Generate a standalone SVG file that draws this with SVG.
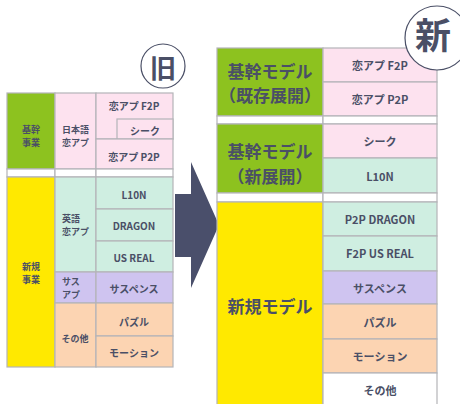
<svg xmlns="http://www.w3.org/2000/svg" width="460" height="404" viewBox="0 0 460 404">
<style>
.c{stroke:#b4b4b8;stroke-width:1.2}
.g{fill:#8dc21f}.p{fill:#fde2ef}.m{fill:#cfeee1}.v{fill:#cfc4f0}.o{fill:#fcd4b2}.y{fill:#ffe900}.w{fill:#ffffff}
text{font-family:"Noto Sans CJK JP","Noto Sans",sans-serif;font-weight:bold;fill:#4a4f66;text-anchor:middle;dominant-baseline:central}
.s{font-size:10px}.t{font-size:9px}.l{font-size:9px;text-anchor:start}
.r{font-size:11px}.b{font-size:17px}
</style>
<rect width="460" height="404" fill="#ffffff"/>
<g id="old-table">
<g id="old-kikan">
<rect class="c g" x="7" y="93" width="48" height="76"/>
<text class="t" x="31" y="129">基幹</text><text class="t" x="31" y="142">事業</text>
<rect class="c p" x="55" y="93" width="41" height="76"/>
<text class="l" x="62" y="129">日本語</text><text class="l" x="62" y="142">恋アプ</text>
<rect class="c p" x="96" y="93" width="77" height="46"/>
<text class="s" x="134" y="105">恋アプ F2P</text>
<rect class="c p" x="117" y="119" width="56" height="20"/>
<text class="s" x="145" y="130">シーク</text>
<rect class="c p" x="96" y="139" width="77" height="30"/>
<text class="s" x="134" y="156">恋アプ P2P</text>
</g>
<g id="old-gap">
<rect class="c w" x="7" y="169" width="48" height="8"/>
<rect class="c w" x="55" y="169" width="41" height="8"/>
<rect class="c w" x="96" y="169" width="77" height="8"/>
</g>
<g id="old-shinki">
<rect class="c y" x="7" y="177" width="48" height="190"/>
<text class="t" x="31" y="266">新規</text><text class="t" x="31" y="279">事業</text>
<rect class="c m" x="55" y="177" width="41" height="95"/>
<text class="l" x="62" y="218">英語</text><text class="l" x="62" y="231">恋アプ</text>
<rect class="c m" x="96" y="177" width="77" height="32"/>
<text class="s" x="134" y="194">L10N</text>
<rect class="c m" x="96" y="209" width="77" height="32"/>
<text class="s" x="134" y="225">DRAGON</text>
<rect class="c m" x="96" y="241" width="77" height="31"/>
<text class="s" x="134" y="257">US REAL</text>
<rect class="c v" x="55" y="272" width="41" height="31"/>
<text class="l" x="62" y="281">サス</text><text class="l" x="62" y="294">アプ</text>
<rect class="c v" x="96" y="272" width="77" height="31"/>
<text class="s" x="134" y="288">サスペンス</text>
<rect class="c o" x="55" y="303" width="41" height="64"/>
<text class="t" x="75" y="338">その他</text>
<rect class="c o" x="96" y="303" width="77" height="33"/>
<text class="s" x="134" y="321">パズル</text>
<rect class="c o" x="96" y="336" width="77" height="31"/>
<text class="s" x="134" y="352">モーション</text>
</g>
</g>
<g id="old-label">
<circle cx="163" cy="66" r="22" fill="#ffffff" stroke="#4a4f66" stroke-width="1.2"/>
<text x="163" y="66" style="font-size:26px">旧</text>
</g>
<g id="arrow">
<polygon points="175,194 191,194 191,162 219,225 191,288 191,257 175,257" fill="#4a4f6b"/>
</g>
<g id="new-table">
<g id="new-kikan1">
<rect class="c g" x="217" y="48" width="106" height="68"/>
<text class="b" x="270" y="70">基幹モデル</text><text class="b" x="270" y="94">（既存展開）</text>
<rect class="c p" x="323" y="48" width="114" height="34"/>
<text class="r" x="380" y="65">恋アプ F2P</text>
<rect class="c p" x="323" y="82" width="114" height="34"/>
<text class="r" x="380" y="99">恋アプ P2P</text>
</g>
<g id="new-gap1">
<rect class="c w" x="217" y="116" width="106" height="8"/>
<rect class="c w" x="323" y="116" width="114" height="8"/>
</g>
<g id="new-kikan2">
<rect class="c g" x="217" y="124" width="106" height="69"/>
<text class="b" x="270" y="150">基幹モデル</text><text class="b" x="270" y="175">（新展開）</text>
<rect class="c p" x="323" y="124" width="114" height="34"/>
<text class="r" x="380" y="141">シーク</text>
<rect class="c m" x="323" y="158" width="114" height="35"/>
<text class="r" x="380" y="176">L10N</text>
</g>
<g id="new-gap2">
<rect class="c w" x="217" y="193" width="106" height="9"/>
<rect class="c w" x="323" y="193" width="114" height="9"/>
</g>
<g id="new-shinki">
<rect class="c y" x="217" y="202" width="106" height="210"/>
<text class="b" x="270" y="305">新規モデル</text>
<rect class="c m" x="323" y="202" width="114" height="34"/>
<text class="r" x="380" y="219">P2P DRAGON</text>
<rect class="c m" x="323" y="236" width="114" height="35"/>
<text class="r" x="380" y="253">F2P US REAL</text>
<rect class="c v" x="323" y="271" width="114" height="33"/>
<text class="r" x="380" y="288">サスペンス</text>
<rect class="c o" x="323" y="304" width="114" height="35"/>
<text class="r" x="380" y="322">パズル</text>
<rect class="c o" x="323" y="339" width="114" height="34"/>
<text class="r" x="380" y="356">モーション</text>
<rect class="c w" x="323" y="373" width="114" height="40"/>
<text class="r" x="380" y="390">その他</text>
</g>
</g>
<g id="new-label">
<circle cx="437" cy="38" r="32" fill="#ffffff" stroke="#4a4f66" stroke-width="1.2"/>
<text x="433" y="33" style="font-size:36px">新</text>
</g>
</svg>
